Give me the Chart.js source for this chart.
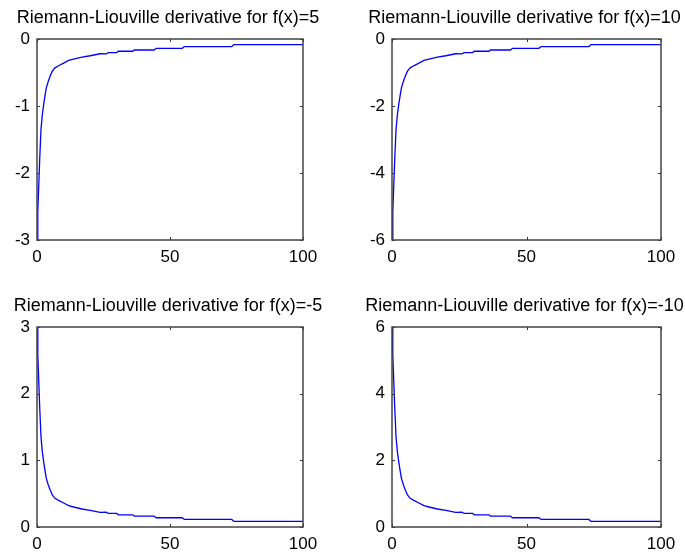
<!DOCTYPE html>
<html lang="en">
  <head>
    <meta charset="UTF-8" />
    <title>Riemann-Liouville derivative</title>
    <script src="https://cdn.jsdelivr.net/npm/chart.js"></script>
    <style>
      body { margin: 0; background: #fff; }
      #wrap { position: relative; width: 685px; height: 553px; }
      canvas { position: absolute; }
    </style>
  </head>
  <body>
    <div id="wrap">
      <canvas id="c1" style="left:0;top:0" width="340" height="280"></canvas>
      <canvas id="c2" style="left:340px;top:0" width="345" height="280"></canvas>
      <canvas id="c3" style="left:0;top:288px" width="340" height="265"></canvas>
      <canvas id="c4" style="left:340px;top:288px" width="345" height="265"></canvas>
    </div>

    <script>
      // x positions (same sampling in all four panels)
      var xs = [0, 0.3, 1, 1.5, 2, 2.5, 3, 3.5, 4.25, 5, 5.75, 6.75, 8.1, 10, 11.9, 13.75, 16.9, 20, 23.7,
                26, 26.8, 30, 30.6, 36, 36.6, 44, 44.8, 54.6, 55.4, 73.2, 74, 100];

      // f(x)=5
      var ysPos5 = [-3, -2.58, -1.81, -1.35, -1.13, -0.98, -0.85, -0.73, -0.63, -0.55, -0.48, -0.43, -0.4, -0.36,
                    -0.32, -0.3, -0.27, -0.25, -0.22, -0.223, -0.203, -0.203, -0.183, -0.183, -0.164, -0.164,
                    -0.139, -0.139, -0.113, -0.113, -0.083, -0.083];
      // f(x)=10
      var ysPos10 = [-6, -5.16, -3.62, -2.7, -2.26, -1.96, -1.7, -1.46, -1.26, -1.1, -0.96, -0.86, -0.8, -0.72,
                     -0.64, -0.6, -0.54, -0.5, -0.44, -0.446, -0.406, -0.406, -0.366, -0.366, -0.328, -0.328,
                     -0.278, -0.278, -0.226, -0.226, -0.166, -0.166];
      // f(x)=-5
      var ysNeg5 = [3, 2.58, 1.81, 1.35, 1.13, 0.98, 0.85, 0.73, 0.63, 0.55, 0.48, 0.43, 0.4, 0.36,
                    0.32, 0.3, 0.27, 0.25, 0.22, 0.223, 0.203, 0.203, 0.183, 0.183, 0.164, 0.164,
                    0.139, 0.139, 0.113, 0.113, 0.083, 0.083];
      // f(x)=-10
      var ysNeg10 = [6, 5.16, 3.62, 2.7, 2.26, 1.96, 1.7, 1.46, 1.26, 1.1, 0.96, 0.86, 0.8, 0.72,
                     0.64, 0.6, 0.54, 0.5, 0.44, 0.446, 0.406, 0.406, 0.366, 0.366, 0.328, 0.328,
                     0.278, 0.278, 0.226, 0.226, 0.166, 0.166];

      var titles = [
        "Riemann-Liouville derivative for f(x)=5",
        "Riemann-Liouville derivative for f(x)=10",
        "Riemann-Liouville derivative for f(x)=-5",
        "Riemann-Liouville derivative for f(x)=-10",
      ];
      var yRanges = [[-3, 0, 1], [-6, 0, 2], [0, 3, 1], [0, 6, 2]];
      var xTicks = [0, 50, 100];

      var FONT = "'Liberation Sans', Arial, sans-serif";

      // box around plot area, small inward ticks and a title centred on the axes (matlab style)
      var frame = {
        id: "frame",
        afterDraw: function (chart, args, opts) {
          var ctx = chart.ctx, a = chart.chartArea;
          var sx = chart.scales.x, sy = chart.scales.y;
          ctx.save();
          ctx.strokeStyle = "#333";
          ctx.lineWidth = 1;
          ctx.beginPath();
          sx.ticks.forEach(function (t) {
            var px = Math.round(sx.getPixelForValue(t.value)) + 0.5;
            ctx.moveTo(px, a.bottom); ctx.lineTo(px, a.bottom - 3);
            ctx.moveTo(px, a.top); ctx.lineTo(px, a.top + 3);
          });
          sy.ticks.forEach(function (t) {
            var py = Math.round(sy.getPixelForValue(t.value)) + 0.5;
            ctx.moveTo(a.left, py); ctx.lineTo(a.left + 3, py);
            ctx.moveTo(a.right, py); ctx.lineTo(a.right - 3, py);
          });
          ctx.stroke();
          ctx.strokeStyle = "#444";
          ctx.lineWidth = 1.5;
          ctx.strokeRect(a.left, a.top, a.right - a.left, a.bottom - a.top);

          ctx.fillStyle = "#000";
          ctx.font = "18px " + FONT;
          ctx.textAlign = "center";
          ctx.textBaseline = "middle";
          ctx.fillText(opts.text, (a.left + a.right) / 2 - 2, 18);
          ctx.restore();
        },
      };

      function makePanel(id, title, ys, yr, yWidth, padRight, xHeight) {
        var pts = xs.map(function (x, i) { return { x: x, y: ys[i] }; });
        new Chart(document.getElementById(id), {
          type: "line",
          data: {
            datasets: [{
              data: pts,
              borderColor: "#0000ff",
              borderWidth: 1.3,
              pointRadius: 0,
              tension: 0,
              fill: false,
            }],
          },
          options: {
            responsive: false,
            animation: false,
            events: [],
            layout: { padding: { left: 0, right: padRight, top: 39, bottom: 0 } },
            plugins: {
              legend: { display: false },
              tooltip: { enabled: false },
              title: { display: false },
              frame: { text: title },
            },
            scales: {
              x: {
                type: "linear",
                min: 0,
                max: 100,
                afterBuildTicks: function (s) { s.ticks = xTicks.map(function (v) { return { value: v }; }); },
                afterFit: function (s) { s.height = xHeight; },
                grid: { display: true, drawOnChartArea: false, drawTicks: false },
                border: { display: false },
                ticks: { color: "#000", padding: 7, maxRotation: 0, font: { family: FONT, size: 17 } },
              },
              y: {
                type: "linear",
                min: yr[0],
                max: yr[1],
                ticks: { stepSize: yr[2], color: "#000", padding: 7, font: { family: FONT, size: 17 } },
                afterFit: function (s) { s.width = yWidth; },
                grid: { display: true, drawOnChartArea: false, drawTicks: false },
                border: { display: false },
              },
            },
          },
          plugins: [frame],
        });
      }

      makePanel("c1", titles[0], ysPos5, yRanges[0], 37, 37, 40);
      makePanel("c2", titles[1], ysPos10, yRanges[1], 52, 24, 40);
      makePanel("c3", titles[2], ysNeg5, yRanges[2], 37, 37, 26);
      makePanel("c4", titles[3], ysNeg10, yRanges[3], 52, 24, 26);
    </script>
  </body>
</html>
